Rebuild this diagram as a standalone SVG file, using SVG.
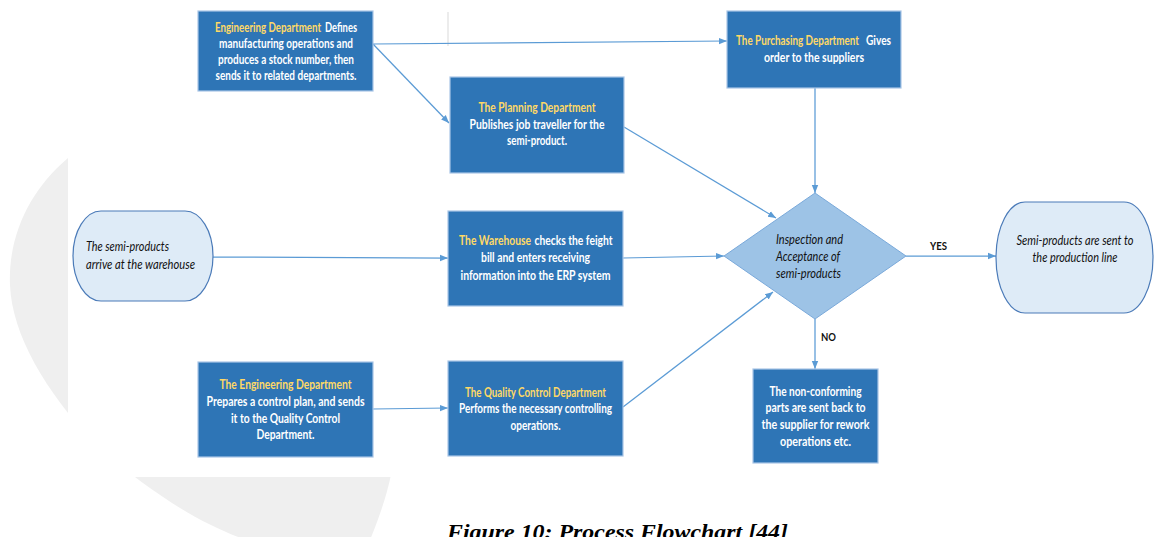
<svg xmlns="http://www.w3.org/2000/svg" width="1154" height="537" viewBox="0 0 1154 537">
<defs>
<marker id="arr" markerWidth="8" markerHeight="8" refX="8" refY="4" orient="auto" markerUnits="userSpaceOnUse">
<path d="M0,0.8 L8,4 L0,7.2 z" fill="#5b9bd5"/>
</marker>
<style>
.box{fill:#2e75b6;stroke:#a9c5e6;stroke-width:1.2}
.term{fill:#deebf7;stroke:#4a7ab8;stroke-width:1.2}
.dia{fill:#9dc3e6;stroke:#7aa9da;stroke-width:1}
.bt{font-family:'Liberation Sans Narrow',Lato,sans-serif;font-weight:bold;font-size:12.5px;fill:#ffffff;text-anchor:middle}
.bs{font-family:'Liberation Sans Narrow',Lato,sans-serif;font-weight:bold;font-size:12.5px;fill:#ffffff;text-anchor:start}
.hl{fill:#ffd966}
.it{font-family:'Liberation Sans Narrow',Lato,sans-serif;font-style:italic;font-size:12.5px;fill:#111111}
.lbl{font-family:'Liberation Sans Narrow',Lato,sans-serif;font-weight:bold;font-size:12px;fill:#111111}
.con{fill:none;stroke:#5b9bd5;stroke-width:1.25}
.cap{font-family:'Liberation Serif','Times New Roman',serif;font-weight:bold;font-style:italic;font-size:20px;fill:#000;text-anchor:middle}
</style>
</defs>
<rect x="0" y="0" width="1154" height="537" fill="#ffffff"/>
<path d="M68,158 C30,190 8,235 10,285 C12,335 45,390 95,445 C160,500 210,530 262,545 L368,545 C378,520 386,500 392,470 L392,158 Z" fill="#efefef"/>
<rect x="68" y="0" width="1086" height="477" fill="#ffffff"/>
<line x1="448" y1="12" x2="448" y2="46" stroke="#d9d9d9" stroke-width="1"/>

<g id="connectors">
<line class="con" x1="373" y1="44" x2="727" y2="41" marker-end="url(#arr)"/>
<line class="con" x1="373" y1="44" x2="449" y2="123" marker-end="url(#arr)"/>
<line class="con" x1="624" y1="127" x2="776" y2="218" marker-end="url(#arr)"/>
<line class="con" x1="815" y1="88" x2="815" y2="193" marker-end="url(#arr)"/>
<line class="con" x1="213" y1="257" x2="448" y2="258" marker-end="url(#arr)"/>
<line class="con" x1="623" y1="258" x2="724" y2="256" marker-end="url(#arr)"/>
<line class="con" x1="373" y1="409" x2="448" y2="408" marker-end="url(#arr)"/>
<line class="con" x1="623" y1="407" x2="773" y2="292" marker-end="url(#arr)"/>
<line class="con" x1="906" y1="256" x2="996" y2="256" marker-end="url(#arr)"/>
<line class="con" x1="815" y1="319" x2="815" y2="369" marker-end="url(#arr)"/>
<text class="lbl" x="930" y="249.5" textLength="17" lengthAdjust="spacingAndGlyphs">YES</text>
<text class="lbl" x="821" y="340.5" textLength="15" lengthAdjust="spacingAndGlyphs">NO</text>
</g>

<g id="eng-top">
<rect class="box" x="198" y="11" width="175" height="80"/>
<g transform="translate(215,32) scale(0.77,1)"><text class="bs hl" x="0" y="0" textLength="137.7" lengthAdjust="spacingAndGlyphs">Engineering Department</text></g>
<g transform="translate(325,32) scale(0.77,1)"><text class="bs" x="0" y="0" textLength="41.6" lengthAdjust="spacingAndGlyphs">Defines</text></g>
<text class="bt" x="286" y="48" textLength="134" lengthAdjust="spacingAndGlyphs">manufacturing operations and</text>
<text class="bt" x="286" y="64" textLength="136" lengthAdjust="spacingAndGlyphs">produces a stock number, then</text>
<text class="bt" x="286" y="80" textLength="141" lengthAdjust="spacingAndGlyphs">sends it to related departments.</text>
</g>

<g id="planning">
<rect class="box" x="450" y="77" width="174" height="96"/>
<text class="bt hl" x="537" y="112" textLength="117" lengthAdjust="spacingAndGlyphs">The Planning Department</text>
<text class="bt" x="537" y="128.5" textLength="135" lengthAdjust="spacingAndGlyphs">Publishes job traveller for the</text>
<text class="bt" x="537" y="145" textLength="60" lengthAdjust="spacingAndGlyphs">semi-product.</text>
</g>

<g id="purchasing">
<rect class="box" x="727" y="11" width="174" height="77"/>
<g transform="translate(736,45) scale(0.77,1)"><text class="bs hl" x="0" y="0" textLength="159.7" lengthAdjust="spacingAndGlyphs">The Purchasing Department</text></g>
<g transform="translate(866,45) scale(0.77,1)"><text class="bs" x="0" y="0" textLength="32.5" lengthAdjust="spacingAndGlyphs">Gives</text></g>
<text class="bt" x="814" y="62" textLength="100" lengthAdjust="spacingAndGlyphs">order to the suppliers</text>
</g>

<g id="arrive">
<rect class="term" x="73" y="211" width="140" height="90" rx="28" ry="45"/>
<text class="it" x="86" y="251" textLength="83" lengthAdjust="spacingAndGlyphs">The semi-products</text>
<text class="it" x="86" y="268.5" textLength="109" lengthAdjust="spacingAndGlyphs">arrive at the warehouse</text>
</g>

<g id="warehouse">
<rect class="box" x="448" y="211" width="175" height="95"/>
<g transform="translate(459,244.5) scale(0.77,1)"><text class="bs hl" x="0" y="0" textLength="93.5" lengthAdjust="spacingAndGlyphs">The Warehouse</text></g>
<g transform="translate(534.5,244.5) scale(0.77,1)"><text class="bs" x="0" y="0" textLength="101.3" lengthAdjust="spacingAndGlyphs">checks the feight</text></g>
<text class="bt" x="535.5" y="262" textLength="109" lengthAdjust="spacingAndGlyphs">bill and enters receiving</text>
<text class="bt" x="535.5" y="279.5" textLength="150" lengthAdjust="spacingAndGlyphs">information into the ERP system</text>
</g>

<g id="inspection">
<polygon class="dia" points="815,193 906,256 815,319 724,256"/>
<text class="it" x="776" y="244" textLength="67" lengthAdjust="spacingAndGlyphs">Inspection and</text>
<text class="it" x="776" y="260.7" textLength="64" lengthAdjust="spacingAndGlyphs">Acceptance of</text>
<text class="it" x="776" y="278" textLength="65" lengthAdjust="spacingAndGlyphs">semi-products</text>
</g>

<g id="production">
<rect class="term" x="996" y="202" width="157" height="111" rx="29" ry="55.5"/>
<text class="it" x="1075" y="244.5" text-anchor="middle" textLength="117" lengthAdjust="spacingAndGlyphs">Semi-products are sent to</text>
<text class="it" x="1075" y="261.5" text-anchor="middle" textLength="85" lengthAdjust="spacingAndGlyphs">the production line</text>
</g>

<g id="eng-bottom">
<rect class="box" x="198" y="362" width="175" height="95"/>
<text class="bt hl" x="285.5" y="389" textLength="132" lengthAdjust="spacingAndGlyphs">The Engineering Department</text>
<text class="bt" x="285.5" y="405.7" textLength="158" lengthAdjust="spacingAndGlyphs">Prepares a control plan, and sends</text>
<text class="bt" x="285.5" y="422.5" textLength="109" lengthAdjust="spacingAndGlyphs">it to the Quality Control</text>
<text class="bt" x="285.5" y="439" textLength="58" lengthAdjust="spacingAndGlyphs">Department.</text>
</g>

<g id="quality">
<rect class="box" x="448" y="361" width="175" height="95"/>
<text class="bt hl" x="535.5" y="397" textLength="141" lengthAdjust="spacingAndGlyphs">The Quality Control Department</text>
<text class="bt" x="535.5" y="413" textLength="153" lengthAdjust="spacingAndGlyphs">Performs the necessary controlling</text>
<text class="bt" x="535.5" y="430" textLength="50" lengthAdjust="spacingAndGlyphs">operations.</text>
</g>

<g id="nonconforming">
<rect class="box" x="753" y="369" width="125" height="94"/>
<text class="bt" x="815.5" y="395.7" textLength="92" lengthAdjust="spacingAndGlyphs">The non-conforming</text>
<text class="bt" x="815.5" y="412.3" textLength="100" lengthAdjust="spacingAndGlyphs">parts are sent back to</text>
<text class="bt" x="815.5" y="429" textLength="108" lengthAdjust="spacingAndGlyphs">the supplier for rework</text>
<text class="bt" x="815.5" y="445.7" textLength="71" lengthAdjust="spacingAndGlyphs">operations etc.</text>
</g>

<text class="cap" x="617.5" y="538.5" textLength="341" lengthAdjust="spacingAndGlyphs">Figure 10: Process Flowchart [44]</text>
</svg>
